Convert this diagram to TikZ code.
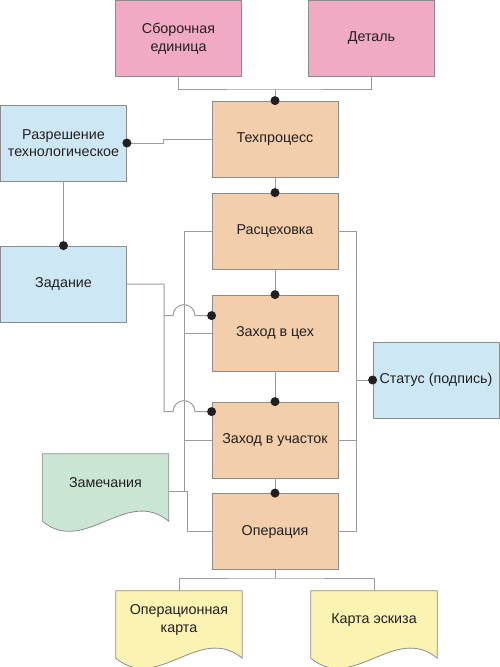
\documentclass[tikz,border=0pt]{standalone}
\usepackage{fontspec}
\setmainfont{Liberation Sans}
\usetikzlibrary{calc,backgrounds}
\definecolor{cpink}{RGB}{240,170,196}
\definecolor{corange}{RGB}{242,206,170}
\definecolor{cblue}{RGB}{205,232,244}
\definecolor{cgreen}{RGB}{201,230,212}
\definecolor{cyellow}{RGB}{250,243,178}
\definecolor{cborder}{RGB}{140,140,140}
\definecolor{cline}{RGB}{155,155,155}
\definecolor{ctext}{RGB}{35,31,32}
\tikzset{
  boxst/.style={draw=cborder, line width=0.8pt, minimum width=126pt, minimum height=76pt,
    inner sep=0pt, align=center, text=ctext, font=\fontsize{14.3}{17.5}\selectfont},
  docst/.style={minimum width=126pt, minimum height=58pt, inner sep=0pt, align=center,
    text=ctext, font=\fontsize{14.3}{17.5}\selectfont},
  docline/.style={draw=cborder, line width=0.8pt},
  conn/.style={draw=cline, line width=1pt},
  dotst/.style={fill=ctext}
}
\newcommand\mydocshape[2]{%
  \filldraw[docline, fill=#2] (#1.north west) -- (#1.north east) -- ($(#1.south east)+(0,9)$)
    .. controls ($(#1.south east)+(-42.3,-26)$) and ($(#1.south west)+(42.3,44)$) ..
    ($(#1.south west)+(0,9)$) -- cycle;}
\begin{document}
\begin{tikzpicture}[x=1pt,y=-1pt]
\useasboundingbox (0,0) rectangle (500,667);

% boxes
\node[boxst, fill=cpink] (sb) at (178.5,38.5) {Сборочная\\единица};
\node[boxst, fill=cpink] (det) at (371.5,38.5) {Деталь};
\node[boxst, fill=corange] (tp) at (275,139) {Техпроцесс};
\node[boxst, fill=cblue] (rt) at (63.5,143) {Разрешение\\технологическое};
\node[boxst, fill=corange] (rc) at (275,231) {Расцеховка};
\node[boxst, fill=cblue] (zd) at (63.5,284) {Задание};
\node[boxst, fill=corange] (zc) at (275,333) {Заход в цех};
\node[boxst, fill=corange] (zu) at (275,440) {Заход в участок};
\node[boxst, fill=corange] (op) at (275,531.5) {Операция};
\node[boxst, fill=cblue] (st) at (436,380) {Статус (подпись)};

% documents
\node[docst] (zm) at (105.5,483) {Замечания};
\node[docst] (ok) at (179,620) {Операционная\\карта};
\node[docst] (ke) at (374,620) {Карта эскиза};
\begin{scope}[on background layer]
  \mydocshape{zm}{cgreen}
  \mydocshape{ok}{cyellow}
  \mydocshape{ke}{cyellow}
\end{scope}

% helper coordinates
\coordinate (j1) at (275,89);
\coordinate (j2) at (275,578);
\coordinate (rb) at (356,0);
\coordinate (lb) at (184,0);
\coordinate (zb) at (164,0);
\coordinate (zcin) at ($(zc.north west)+(0,21)$);
\coordinate (zuin) at ($(zu.north west)+(0,10)$);
\coordinate (zmout) at ($(zm.north east)+(0,38)$);

% connectors
\draw[conn] (sb.south) |- (j1) -| (det.south);
\draw[conn] (j1) -- (tp.north);
\draw[conn] (rt.east) -- ++(37,0) |- (tp.west);
\draw[conn] (tp.south) -- (rc.north);
\draw[conn] (rt.south) -- (zd.north);
\draw[conn] (rc.south) -- (zc.north);
\draw[conn] (zc.south) -- (zu.north);
\draw[conn] (zu.south) -- (op.north);

\draw[conn] (rc.east) -- (rc.east -| rb) -- (op.east -| rb) -- (op.east);
\draw[conn] (zu.east) -- (zu.east -| rb);
\draw[conn] (st.west) -- (st.west -| rb);

\draw[conn] (rc.west) -- (rc.west -| lb) -- (zmout -| lb);
\draw[conn] (zc.west) -- (zc.west -| lb);
\draw[conn] (zu.west) -- (zu.west -| lb);
\draw[conn] (zmout) -- ++(19,0) |- (op.west);

\draw[conn] (zd.east) -- (zd.east -| zb) -- (zuin -| zb) -- ($(zuin -| lb)+(-11,0)$)
  arc[start angle=180, end angle=0, radius=11pt] -- (zuin);
\draw[conn] (zcin -| zb) -- ($(zcin -| lb)+(-11,0)$)
  arc[start angle=180, end angle=0, radius=11pt] -- (zcin);

\draw[conn] (op.south) -- (j2);
\draw[conn] (ok.north) |- (j2) -| (ke.north);

% dots
\foreach \p in {tp.north, rt.east, rc.north, zd.north, zc.north, zu.north, op.north, st.west, zcin, zuin}
  \fill[dotst] (\p) circle[radius=4.5pt];
\end{tikzpicture}
\end{document}
